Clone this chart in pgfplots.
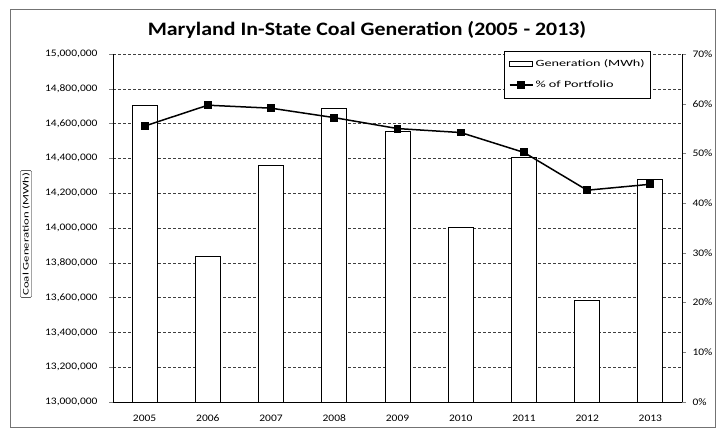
\documentclass[border=0pt]{standalone}
\usepackage{fontspec}
\setmainfont[FakeStretch=1.15]{Carlito}
\newfontfamily\legendfont[FakeStretch=1.5]{Carlito}
\usepackage{pgfplots}
\pgfplotsset{compat=1.18}

\begin{document}
\begin{tikzpicture}[x=1pt,y=1pt]
  \path[use as bounding box] (0,0) rectangle (717,430);
  \draw[black!55, line width=0.6pt] (10,3) rectangle (715,421);
  \node[font=\bfseries\fontsize{19}{21}\selectfont] at (367,400)
    {Maryland In-State Coal Generation (2005 - 2013)};
  \node[draw, rotate=90, rounded corners=1pt, inner sep=1.8pt,
        font=\legendfont\fontsize{8.5}{9}\selectfont] at (26,196) {Coal Generation (MWh)};

  % generation bars, left axis
  \begin{axis} [
      at={(113pt,28pt)}, anchor=south west,
      scale only axis,
      width      = 569pt,
      height     = 348pt,
      xmin       = -0.5,
      xmax       = 8.5,
      ymin       = 13000000,
      ymax       = 15000000,
      axis x line* = bottom,
      axis y line* = left,
      axis line style = {-, line width=0.7pt},
      xtick      = {0,...,8},
      xticklabels = {2005,2006,2007,2008,2009,2010,2011,2012,2013},
      x tick style = {draw=none},
      xticklabel style = {yshift=-5pt},
      ytick distance = 200000,
      scaled y ticks = false,
      yticklabel style = {xshift=-8pt, /pgf/number format/fixed, /pgf/number format/1000 sep={,}},
      /pgf/number format/assume math mode=true,
      tick label style = {font=\fontsize{10}{11}\selectfont},
      tick align = outside,
      major tick length = 4pt,
      ymajorgrids,
      major grid style = {densely dashed, black!75, line width=0.5pt},
    ]
    \addplot [ybar, bar width=25pt, bar shift=0pt, fill=white, draw=black, line width=0.9pt]
      coordinates {(0,14705000)(1,13835000)(2,14358000)(3,14686000)(4,14556000)
                   (5,14002000)(6,14405000)(7,13585000)(8,14278000)};
  \end{axis}

  % share of portfolio, right axis
  \begin{axis} [
      at={(113pt,28pt)}, anchor=south west,
      scale only axis,
      width      = 569pt,
      height     = 348pt,
      xmin       = -0.5,
      xmax       = 8.5,
      ymin       = 0,
      ymax       = 70,
      axis x line = none,
      axis y line* = right,
      axis line style = {-, line width=0.7pt},
      ytick      = {0,10,...,70},
      yticklabel = {\pgfmathprintnumber{\tick}\%},
      yticklabel style = {xshift=3pt},
      /pgf/number format/assume math mode=true,
      tick label style = {font=\fontsize{10}{11}\selectfont},
      tick align = outside,
      major tick length = 4pt,
      legend style = {at={(0.688,1.01)}, anchor=north west, draw=black, line width=0.6pt,
                      font=\legendfont\fontsize{9.5}{10}\selectfont, row sep=9pt,
                      inner xsep=4pt, inner ysep=7pt},
      legend cell align = left,
    ]
    \addlegendimage{legend image code/.code={
        \draw[fill=white, line width=0.8pt] (0pt,-2.5pt) rectangle (23pt,2.5pt);}}
    \addlegendentry{Generation (MWh)}
    \addplot [black, line width=1.5pt, mark=square*, mark size=3.2pt,
              legend image code/.code={
                \draw[black, line width=1.8pt] (0pt,0pt) -- (23pt,0pt);
                \fill[black] (11.5pt,0pt) ++(-3.2pt,-3.2pt) rectangle ++(6.4pt,6.4pt);}]
      coordinates {(0,55.5)(1,59.7)(2,59.1)(3,57.2)(4,55.0)(5,54.2)(6,50.2)(7,42.6)(8,43.8)};
    \addlegendentry{\% of Portfolio}
  \end{axis}
\end{tikzpicture}
\end{document}
